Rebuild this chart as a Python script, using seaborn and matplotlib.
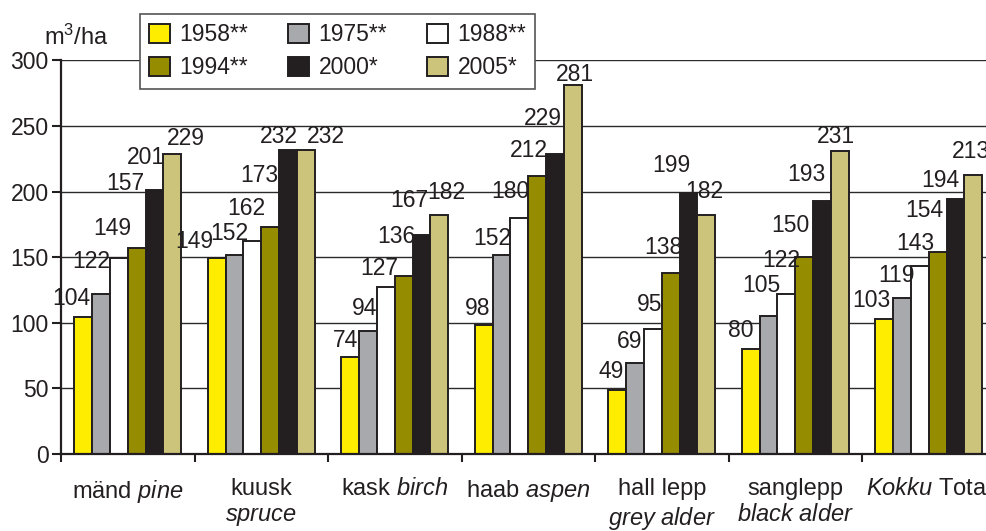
import numpy as np
import pandas as pd
import matplotlib
matplotlib.use("Agg")
import matplotlib.pyplot as plt
import seaborn as sns
from matplotlib.patches import Patch

# ---------------- data ----------------
SPECIES = ["mänd", "kuusk", "kask", "haab", "hall lepp", "sanglepp", "Kokku"]
TICK_LABELS = [
    "mänd $\\mathit{pine}$",
    "kuusk\n$\\mathit{spruce}$",
    "kask $\\mathit{birch}$",
    "haab $\\mathit{aspen}$",
    "hall lepp\n$\\mathit{grey\\ alder}$",
    "sanglepp\n$\\mathit{black\\ alder}$",
    "$\\mathit{Kokku}$ Total",
]
YEARS = ["1958**", "1975**", "1988**", "1994**", "2000*", "2005*"]
V1958 = [104, 149, 74, 98, 49, 80, 103]
V1975 = [122, 152, 94, 152, 69, 105, 119]
V1988 = [149, 162, 127, 180, 95, 122, 143]
V1994 = [157, 173, 136, 212, 138, 150, 154]
V2000 = [201, 232, 167, 229, 199, 193, 194]
V2005 = [229, 232, 182, 281, 182, 231, 213]
VALUES = [V1958, V1975, V1988, V1994, V2000, V2005]
Y_TICKS = [0, 50, 100, 150, 200, 250, 300]
Y_LABEL = "m$^3$/ha"

# ---------------- styling ----------------
COLORS = ["#FFED00", "#A7A9AC", "#FFFFFF", "#968C00", "#231F20", "#CBC47A"]
EDGE = "#231F20"
TXT = "#231F20"
# label nudges (pixels) per species group, one per year: right-edge dx, baseline dy
LABEL_DX = [
    [-2, 0, 4, -1, 2, 24],
    [-12, 5, 4, -1, 1, 30],
    [-1, 0, 4, 3, -2, 17],
    [-2, 1, 1, 2, -2, 12],
    [-2, -2, 1, 3, -7, 8],
    [-6, 3, 5, -4, -5, 6],
    [-3, 4, 6, -3, -5, 8],
]
LABEL_DY = [
    [12.5, 25.5, 23.4, 57.9, 26.2, 8.5],
    [10, 14.5, 26.4, 44.6, 6.2, 6.2],
    [10, 15.6, 12.3, 32.1, 28, 15.8],
    [10.4, 9.4, 19.4, 19.1, 28.5, 4.6],
    [11.3, 15.1, 18.5, 18.9, 21.1, 16.8],
    [12.3, 24.4, 27.2, 25.4, 20.2, 7.5],
    [12.1, 16.1, 16.3, 35.1, 12.7, 16.1],
]
NUM_FS = 16.5
LAB_FS = 17

sns.set_style("white")
plt.rcParams["font.family"] = ["Liberation Sans", "DejaVu Sans"]
plt.rcParams["mathtext.fontset"] = "custom"
plt.rcParams["mathtext.rm"] = "Liberation Sans"
plt.rcParams["mathtext.it"] = "Liberation Sans:italic"
plt.rcParams["mathtext.bf"] = "Liberation Sans:bold"

df = pd.DataFrame({
    "species": np.tile(SPECIES, len(YEARS)),
    "year": np.repeat(YEARS, len(SPECIES)),
    "volume": np.concatenate(VALUES),
})

W, H = 986, 531
fig = plt.figure(figsize=(W / 100, H / 100), dpi=100)
x0, y_zero, y_top, group_w = 61, 453.9, 60.4, 133.5
ax = fig.add_axes([x0 / W, (H - y_zero) / H, 7 * group_w / W, (y_zero - y_top) / H])

sns.barplot(data=df, x="species", y="volume", hue="year", order=SPECIES,
            hue_order=YEARS, palette=COLORS, saturation=1, edgecolor=EDGE,
            linewidth=1.4, width=0.8, gap=0, errorbar=None, legend=False, ax=ax)

ax.set_xlim(-0.5, len(SPECIES) - 0.5)
ax.set_ylim(0, 300)
ax.set_xlabel("")
ax.set_ylabel("")

# grid
ax.set_axisbelow(True)
ax.yaxis.grid(True, color="#2a2a2a", linewidth=1.0)
ax.xaxis.grid(False)

# spines
for s in ["top", "right"]:
    ax.spines[s].set_visible(False)
for s in ["left", "bottom"]:
    ax.spines[s].set_color(EDGE)
    ax.spines[s].set_linewidth(1.6)

# y ticks
ax.set_yticks(Y_TICKS)
ax.set_yticklabels([str(t) for t in Y_TICKS])
ax.tick_params(axis="y", direction="out", length=6.5, width=1.5, color=EDGE,
               pad=2.5, labelsize=NUM_FS, labelcolor=TXT, left=True)

# x ticks: boundaries major, labels minor
ax.set_xticks(np.arange(-0.5, len(SPECIES), 1.0))
ax.set_xticklabels([""] * (len(SPECIES) + 1))
ax.set_xticks(np.arange(len(SPECIES)), minor=True)
ax.set_xticklabels(TICK_LABELS, minor=True, fontsize=LAB_FS, color=TXT,
                   linespacing=1.26)
ax.tick_params(axis="x", which="major", direction="out", length=6, width=1.5,
               color=EDGE, bottom=True)
ax.tick_params(axis="x", which="minor", length=0, pad=17, bottom=True)

# value labels
for i, cont in enumerate(ax.containers):
    for j, bar in enumerate(cont):
        v = VALUES[i][j]
        ax.annotate(str(v), (bar.get_x() + bar.get_width(), bar.get_height()),
                    xytext=(LABEL_DX[j][i], LABEL_DY[j][i]),
                    textcoords="offset pixels", ha="right", va="baseline",
                    fontsize=NUM_FS, color=TXT, annotation_clip=False)

# y unit label
fig.text(76 / W, 1 - 45 / H, Y_LABEL, ha="center", va="baseline",
         fontsize=LAB_FS, color=TXT)

# legend
order = [0, 3, 1, 4, 2, 5]
handles = [Patch(facecolor=COLORS[k], edgecolor=EDGE, linewidth=1.4) for k in order]
labels = [YEARS[k] for k in order]
leg = fig.legend(handles, labels, ncol=3, loc="upper left",
                 bbox_to_anchor=(140 / W, 1 - 14 / H), frameon=True,
                 fancybox=False, framealpha=1, edgecolor="#555555",
                 fontsize=NUM_FS, handlelength=0.92, handleheight=0.92,
                 handletextpad=0.4, columnspacing=1.75, labelspacing=0.45,
                 borderpad=0.4, borderaxespad=0)
leg.get_frame().set_linewidth(1.2)
for t in leg.get_texts():
    t.set_color(TXT)

fig.savefig("out.png", dpi=100)
